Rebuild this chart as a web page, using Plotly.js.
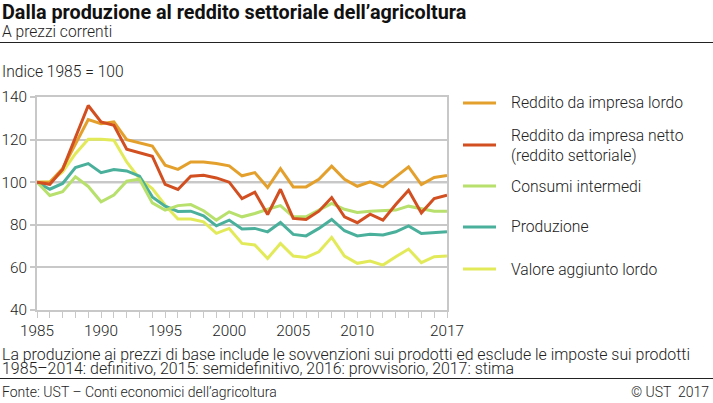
<!DOCTYPE html>
<html>
<head>
<meta charset="utf-8">
<script src="https://cdn.plot.ly/plotly-3.0.1.min.js"></script>
<style>
  html, body { margin: 0; padding: 0; background: #fff; }
  #chart { width: 713px; height: 403px; }
</style>
</head>
<body>
<div id="chart"></div>
<script>
// ---- Data ----
const years = [1985,1986,1987,1988,1989,1990,1991,1992,1993,1994,1995,1996,1997,1998,1999,2000,2001,2002,2003,2004,2005,2006,2007,2008,2009,2010,2011,2012,2013,2014,2015,2016,2017];
const redditoLordo = [100,100,106.4,118,129.4,127.5,128.3,120,118.4,117,108,106,109.5,109.5,108.8,107.7,103,104.5,97.5,106.4,97.8,97.8,101.4,107.5,101.4,98.1,100.2,97.8,102.5,107.2,98.9,102.2,103.1];
const redditoNetto = [100,99,106,121,136,128.3,126.7,115.5,113.7,112.2,99,96.6,102.8,103.3,102,100,92.3,95.3,84.8,96.7,83,82.5,86.4,92.8,83.75,81,85,82.2,89.5,96.25,85.6,92.3,93.9];
const consumiIntermedi = [100,93.75,95.5,102.5,98,90.8,94,100.5,101.4,90.3,86.9,89,89.5,86.6,82.2,86.1,83.75,85.3,87.3,89,83.75,83.75,86.9,90,87.3,85.8,86.4,86.6,86.9,88.75,87.7,86.4,86.4];
const produzione = [100,96.7,99.4,106.9,108.75,104.5,106,105.3,102.8,93.1,88.75,86.25,86.4,84.2,79.5,82.2,78,78.3,76.7,81.1,75.5,74.8,78.3,82.5,77.2,74.8,75.6,75.2,76.7,79.5,75.9,76.4,76.7];
const valoreAggiunto = [100,100.2,104.8,113.4,120.2,120.2,119.7,109.5,101.7,97,89.2,82.7,82.7,81.4,76,78.3,71.25,70.5,64.2,71.25,65.3,64.7,67.3,74.1,65.3,61.9,63,61.1,65,68.6,62.2,65,65.3];

const seriesNames = ["Reddito da impresa lordo", "Reddito da impresa netto<br>(reddito settoriale)", "Consumi intermedi", "Produzione", "Valore aggiunto lordo"];
const xTickVals = [1985,1990,1995,2000,2005,2010,2017];
const xTickText = ["1985","1990","1995","2000","2005","2010","2017"];
const yTickVals = [40,60,80,100,120,140];

const titleText = "Dalla produzione al reddito settoriale dell’agricoltura";
const subtitleText = "A prezzi correnti";
const yLabelText = "Indice 1985 = 100";
const note1 = "La produzione ai prezzi di base include le sovvenzioni sui prodotti ed esclude le imposte sui prodotti";
const note2 = "1985–2014: definitivo, 2015: semidefinitivo, 2016: provvisorio, 2017: stima";
const sourceText = "Fonte: UST – Conti economici dell’agricoltura";
const copyText = "© UST  2017";

// ---- Styling ----
const colors = ["#e4a02c", "#d14f20", "#b7e06c", "#4ab09c", "#e2ea5a"];
const values = [redditoLordo, redditoNetto, consumiIntermedi, produzione, valoreAggiunto];
const drawOrder = [4, 3, 2, 0, 1];
const FONT = "Roboto, 'Noto Sans', sans-serif";
const TXT = "#222222";
const WT = 300;

const W = 713, H = 403;
const M = {l: 37, r: 266, t: 97, b: 93};
const PW = W - M.l - M.r, PH = H - M.t - M.b;
const px = x => (x - M.l) / PW;
const py = y => (H - M.b - y) / PH;

const traces = drawOrder.map(i => ({
  type: "scatter", mode: "lines",
  x: years, y: values[i],
  name: seriesNames[i],
  line: {color: colors[i], width: 3},
  showlegend: false, hoverinfo: "skip"
}));

const annotations = [
  {text: titleText, x: px(0), y: py(12), font: {size: 19.8, color: "#111", weight: 700}},
  {text: subtitleText, x: px(0), y: py(32), font: {size: 15.6, color: TXT, weight: WT}},
  {text: yLabelText, x: px(0), y: py(72), font: {size: 15.6, color: TXT, weight: WT}},
  {text: note1, x: px(0), y: py(354.5), font: {size: 15.9, color: TXT, weight: WT}},
  {text: note2, x: px(0), y: py(368.5), font: {size: 15.9, color: TXT, weight: WT}},
  {text: sourceText, x: px(0), y: py(391.5), font: {size: 14, color: TXT, weight: WT}},
  {text: copyText, x: px(711), y: py(391.5), xanchor: "right", font: {size: 14, color: TXT, weight: WT}}
].map(a => Object.assign({xref: "paper", yref: "paper", xanchor: "left", yanchor: "middle", showarrow: false, align: "left"}, a));

const legendRows = [103, 145, 186, 227, 269];
const shapes = [
  {type: "line", xref: "paper", yref: "paper", x0: px(0), x1: px(713), y0: py(42.5), y1: py(42.5), line: {color: "#222", width: 1}},
  {type: "line", xref: "paper", yref: "paper", x0: px(0), x1: px(713), y0: py(378.5), y1: py(378.5), line: {color: "#222", width: 1}},
  {type: "line", xref: "paper", yref: "y", x0: 0, x1: 1, y0: 100, y1: 100, layer: "below", line: {color: "#9a9a9a", width: 2}}
];
seriesNames.forEach((n, i) => {
  shapes.push({type: "line", xref: "paper", yref: "paper", x0: px(463), x1: px(496), y0: py(legendRows[i]), y1: py(legendRows[i]), line: {color: colors[i], width: 3}});
  annotations.push({xref: "paper", yref: "paper", x: px(509), y: py(legendRows[i]), xanchor: "left", yanchor: "middle", showarrow: false, align: "left", text: n, font: {size: 15.7, color: TXT, weight: WT}});
});

const layout = {
  width: W, height: H,
  margin: M,
  paper_bgcolor: "#fff", plot_bgcolor: "#fff",
  font: {family: FONT, color: TXT, size: 15},
  showlegend: false,
  xaxis: {
    range: [1985, 2017], tickmode: "array", tickvals: xTickVals, ticktext: xTickText,
    ticks: "outside", ticklen: 6, tickcolor: "#c8c8c8", tickwidth: 1,
    minor: {dtick: 1, tick0: 1985, ticks: "outside", ticklen: 6, tickcolor: "#c8c8c8", tickwidth: 1, showgrid: false},
    showgrid: false, zeroline: false,
    showline: true, linecolor: "#c8c8c8", linewidth: 2, mirror: true,
    tickfont: {size: 15.3, color: TXT, weight: WT}, fixedrange: true
  },
  yaxis: {
    range: [40, 140], tickmode: "array", tickvals: yTickVals,
    ticks: "outside", ticklen: 5, tickcolor: "#c8c8c8", tickwidth: 2,
    showgrid: true, gridcolor: "#c8c8c8", gridwidth: 2, zeroline: false,
    showline: true, linecolor: "#c8c8c8", linewidth: 2, mirror: true,
    tickfont: {size: 15.3, color: TXT, weight: WT}, fixedrange: true
  },
  shapes: shapes,
  annotations: annotations
};

Plotly.newPlot("chart", traces, layout, {staticPlot: true, displayModeBar: false});
</script>
</body>
</html>
